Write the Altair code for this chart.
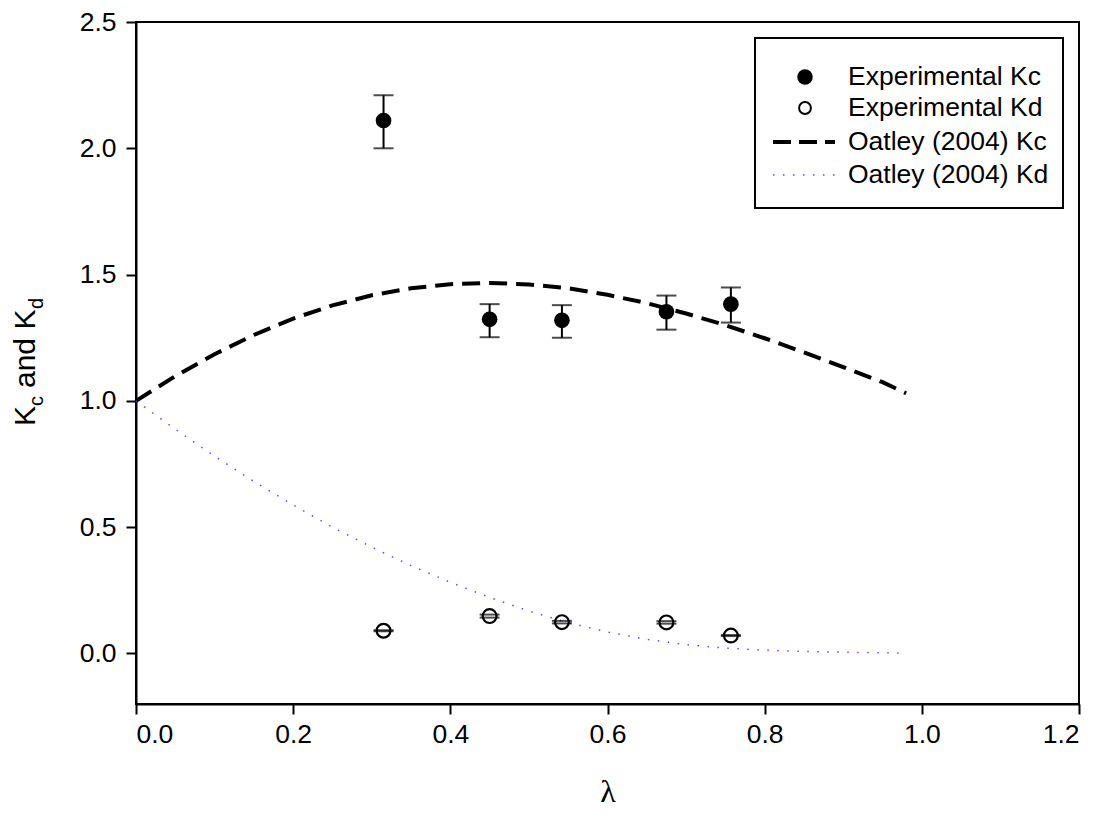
import altair as alt
import pandas as pd

# ---------------- data ----------------
lam_exp = [0.315, 0.450, 0.542, 0.675, 0.757]
kc_exp = [2.11, 1.323, 1.319, 1.353, 1.383]
kc_lo = [2.00, 1.252, 1.250, 1.282, 1.310]
kc_hi = [2.21, 1.383, 1.379, 1.417, 1.449]
kd_exp = [0.090, 0.148, 0.124, 0.123, 0.071]
kd_lo = [0.088, 0.142, 0.119, 0.118, 0.069]
kd_hi = [0.092, 0.154, 0.129, 0.128, 0.073]

lam_kc_curve = [0.00, 0.05, 0.10, 0.15, 0.20, 0.25, 0.30, 0.35, 0.40, 0.45, 0.50,
                0.55, 0.60, 0.65, 0.70, 0.75, 0.80, 0.85, 0.90, 0.95, 0.98]
kc_curve = [1.000, 1.098, 1.185, 1.261, 1.326, 1.378, 1.418, 1.446, 1.462, 1.467, 1.461,
            1.446, 1.420, 1.387, 1.346, 1.300, 1.248, 1.192, 1.134, 1.074, 1.030]

lam_kd_curve = [0.00, 0.05, 0.10, 0.15, 0.20, 0.25, 0.30, 0.35, 0.40, 0.45, 0.50,
                0.55, 0.60, 0.65, 0.70, 0.75, 0.80, 0.85, 0.90, 0.95, 0.975]
kd_curve = [1.000, 0.888, 0.781, 0.681, 0.588, 0.500, 0.421, 0.348, 0.282, 0.222, 0.168,
            0.122, 0.085, 0.056, 0.035, 0.021, 0.013, 0.008, 0.005, 0.003, 0.002]

legend_labels = ["Experimental Kc", "Experimental Kd", "Oatley (2004) Kc", "Oatley (2004) Kd"]

x_ticks = [0.0, 0.2, 0.4, 0.6, 0.8, 1.0, 1.2]
y_ticks = [0.0, 0.5, 1.0, 1.5, 2.0, 2.5]

# ---------------- tables ----------------
kc_df = pd.DataFrame({"x": lam_exp, "y": kc_exp, "lo": kc_lo, "hi": kc_hi})
kd_df = pd.DataFrame({"x": lam_exp, "y": kd_exp, "lo": kd_lo, "hi": kd_hi})
kc_line_df = pd.DataFrame({"x": lam_kc_curve, "y": kc_curve})
kd_line_df = pd.DataFrame({"x": lam_kd_curve, "y": kd_curve})
one = pd.DataFrame({"a": [0]})

SANS = "Liberation Sans, Arial, sans-serif"
SERIF = "Liberation Serif, Times New Roman, serif"
FS = 26.5

axis_common = dict(
    format=".1f", grid=False, tickSize=10, tickWidth=2, tickColor="black",
    domainColor="black", domainWidth=2, labelFont=SANS, labelFontSize=FS,
    labelColor="black",
)

x_scale = alt.Scale(domain=[0, 1.2], nice=False, zero=False)
y_scale = alt.Scale(domain=[-0.2, 2.5], nice=False, zero=False)

x_enc = alt.X("x:Q", scale=x_scale,
              axis=alt.Axis(values=x_ticks, title="λ", titleFont=SERIF, titleFontSize=32,
                            titleFontWeight="normal", titleColor="black", titlePadding=29,
                            labelPadding=7, **axis_common))
y_enc = alt.Y("y:Q", scale=y_scale,
              axis=alt.Axis(values=y_ticks, title=None, labelPadding=10, **axis_common))

# ---------------- data layers ----------------
kc_line = alt.Chart(kc_line_df).mark_line(
    color="black", strokeWidth=4, strokeDash=[18, 9]
).encode(x=x_enc, y=y_enc)

kd_line = alt.Chart(kd_line_df).mark_line(
    color="#3030ff", strokeWidth=1.5, strokeDash=[1.5, 8.5], opacity=0.85
).encode(x=x_enc, y=y_enc)

def cap(df, field):
    return alt.Chart(df).mark_tick(color="black", orient="horizontal", size=20, thickness=2).encode(
        x=x_enc, y=alt.Y(field + ":Q", scale=y_scale))

kc_bar = alt.Chart(kc_df).mark_rule(color="black", strokeWidth=2).encode(
    x=x_enc, y=alt.Y("lo:Q", scale=y_scale), y2="hi:Q")
kc_pts = alt.Chart(kc_df).mark_point(
    shape="circle", filled=True, color="black", size=245, opacity=1
).encode(x=x_enc, y=y_enc)

kd_pts = alt.Chart(kd_df).mark_point(
    shape="circle", filled=False, color="black", strokeWidth=2.2, size=190, opacity=1
).encode(x=x_enc, y=y_enc)

# ---------------- y-axis title with subscripts ----------------
def ytxt(text, x, y, size):
    return alt.Chart(one).mark_text(
        text=text, angle=270, align="left", baseline="alphabetic",
        font=SANS, fontSize=size, color="black"
    ).encode(x=alt.value(x), y=alt.value(y))

ytitle = [
    ytxt("K", -101, 404, 30),
    ytxt("c", -93, 384, 20),
    ytxt("and K", -101, 366, 30),
    ytxt("d", -93, 287, 20),
]

# ---------------- legend ----------------
leg_box = alt.Chart(one).mark_rect(fill="white", stroke="black", strokeWidth=2).encode(
    x=alt.value(619), x2=alt.value(927), y=alt.value(16), y2=alt.value(186))
leg_kc = alt.Chart(one).mark_point(shape="circle", filled=True, color="black", size=240, opacity=1).encode(
    x=alt.value(669), y=alt.value(55))
leg_kd = alt.Chart(one).mark_point(shape="circle", filled=False, color="black", strokeWidth=2, size=140, opacity=1).encode(
    x=alt.value(669), y=alt.value(86))
leg_l1 = alt.Chart(one).mark_rule(color="black", strokeWidth=4, strokeDash=[18, 8]).encode(
    x=alt.value(637), x2=alt.value(699), y=alt.value(120))
leg_l2 = alt.Chart(one).mark_rule(color="#3030ff", strokeWidth=1.5, strokeDash=[1.5, 8.5], opacity=0.85).encode(
    x=alt.value(637), x2=alt.value(699), y=alt.value(153))
leg_text_df = pd.DataFrame({"label": legend_labels, "py": [55, 86, 120, 153]})
leg_text = alt.Chart(leg_text_df).mark_text(
    align="left", baseline="middle", font=SANS, fontSize=FS, color="black"
).encode(x=alt.value(712), y=alt.Y("py:Q", scale=None), text="label:N")

chart = alt.layer(
    kc_line, kd_line,
    kc_bar, cap(kc_df, "lo"), cap(kc_df, "hi"), kc_pts,
    cap(kd_df, "lo"), cap(kd_df, "hi"), kd_pts,
    leg_box, leg_kc, leg_kd, leg_l1, leg_l2, leg_text,
    *ytitle,
).properties(
    width=943, height=682,
    padding={"left": 128, "top": 14, "right": 22, "bottom": 108},
    autosize=alt.AutoSizeParams(type="none"),
).configure_view(stroke="black", strokeWidth=2)

chart.save("out.html", embed_options={"renderer": "svg", "actions": False})
